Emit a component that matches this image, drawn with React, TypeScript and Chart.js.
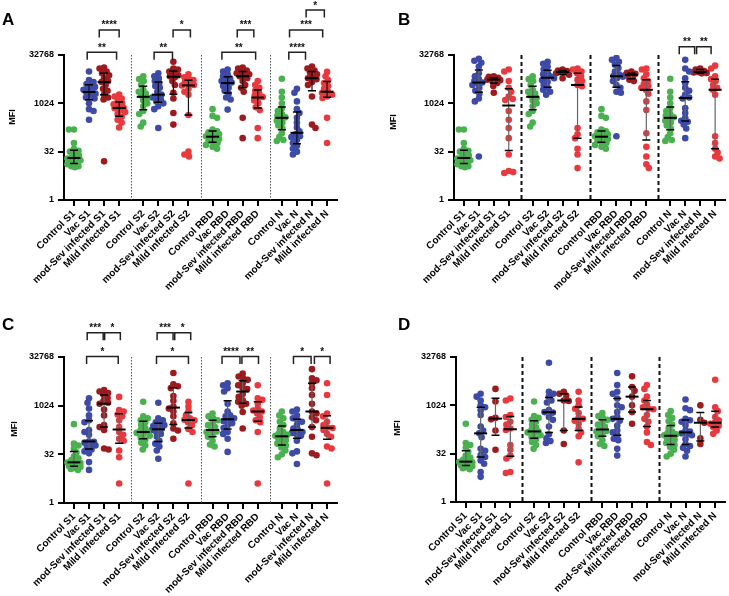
import React, { useEffect, useRef } from 'react';
import { Chart, registerables } from 'chart.js';
Chart.register(...registerables);
Chart.defaults.font.family = "'Liberation Sans', Arial, sans-serif";

// ---------- categories & ticks ----------
const categories = [
  'Control S1', 'Vac S1', 'mod-Sev infected S1', 'Mild infected S1',
  'Control S2', 'Vac S2', 'mod-Sev infected S2', 'Mild infected S2',
  'Control RBD', 'Vac RBD', 'mod-Sev infected RBD', 'Mild infected RBD',
  'Control N', 'Vac N', 'mod-Sev infected N', 'Mild infected N',
];
// y axis is log2(MFI); ticks 1, 32, 1024, 32768
const yTickExponents = [0, 5, 10, 15];
const groupColors = ['#4bb04f', '#3d4aa6', '#9b1b1f', '#e8393f'];

// ---------- data: log2(MFI) per subject ----------
// controls shared by A & B
const ctrlS1AB = [7.3, 7.3, 5.9, 5.3, 5.1, 5.0, 4.8, 4.6, 4.4, 4.3, 4.2, 4.1, 4.0, 3.8, 3.7, 3.5, 3.5, 3.4];
const ctrlS2AB = [12.8, 12.5, 12.3, 11.9, 11.4, 11.2, 11.0, 10.8, 10.55, 10.3, 10.0, 9.7, 9.2, 8.9, 8.0, 7.6];
const ctrlRBDAB = [9.4, 8.7, 8.5, 7.3, 7.1, 7.0, 6.9, 6.8, 6.6, 6.5, 6.4, 6.3, 6.1, 6.0, 5.9, 5.7, 5.5, 5.3];
const ctrlNAB = [12.55, 11.2, 10.6, 10.0, 9.5, 9.2, 8.9, 8.7, 8.55, 8.45, 8.2, 8.0, 7.7, 7.4, 6.9, 6.5, 6.2, 6.1];

// panel A
const aVacS1 = [13.3, 12.4, 12.2, 12.0, 11.9, 11.7, 11.5, 11.4, 11.25, 11.1, 11.0, 10.8, 10.6, 10.5, 10.0, 9.4, 9.2, 8.3];
const aSevS1 = [13.7, 13.6, 13.3, 13.1, 12.9, 12.6, 12.3, 12.2, 11.9, 11.5, 11.3, 10.9, 10.6, 10.4, 4.0];
const aMildS1 = [10.9, 10.7, 10.5, 10.2, 10.0, 9.9, 9.7, 9.55, 9.5, 9.3, 9.1, 8.9, 8.6, 8.3, 8.0, 7.5];
const aVacS2 = [13.1, 12.8, 12.6, 12.3, 12.1, 11.8, 11.6, 11.2, 10.9, 10.7, 10.6, 10.4, 10.2, 10.0, 9.7, 9.4, 7.45];
const aSevS2 = [14.3, 13.6, 13.5, 13.3, 13.1, 12.9, 12.8, 12.7, 12.3, 11.9, 11.1, 10.5, 9.0, 7.8];
const aMildS2 = [13.0, 12.7, 12.5, 12.4, 12.2, 12.0, 11.9, 11.85, 11.5, 11.2, 10.9, 8.8, 5.0, 4.7, 4.5];
const aVacRBD = [13.5, 13.3, 13.0, 12.8, 12.6, 12.5, 12.3, 12.15, 12.05, 11.8, 11.6, 11.3, 11.0, 10.6, 10.4, 9.35];
const aSevRBD = [13.7, 13.6, 13.4, 13.3, 13.1, 13.0, 12.9, 12.8, 12.6, 12.3, 11.9, 11.6, 11.2, 8.5, 6.4];
const aMildRBD = [12.3, 11.9, 11.6, 11.3, 11.0, 10.8, 10.65, 10.55, 10.3, 10.0, 9.6, 9.3, 7.45, 6.4];
const aVacN = [11.5, 11.1, 10.2, 9.4, 9.0, 8.5, 8.0, 7.5, 7.1, 6.8, 6.6, 6.5, 6.2, 5.9, 5.6, 5.3, 5.0, 4.7];
const aSevN = [13.8, 13.6, 13.4, 13.2, 13.0, 12.8, 12.6, 12.5, 12.2, 11.9, 10.7, 7.8, 7.45];
const aMildN = [13.25, 12.8, 12.4, 12.1, 11.8, 11.5, 11.2, 11.07, 10.9, 10.7, 10.55, 8.5, 5.9];

// panel B
const bVacS1 = [14.6, 14.4, 14.2, 13.8, 13.1, 12.8, 12.5, 12.3, 12.15, 12.05, 11.9, 11.6, 11.3, 11.0, 10.5, 10.2, 4.5];
const bSevS1 = [12.8, 12.75, 12.65, 12.55, 12.5, 12.45, 12.4, 12.3, 12.1, 11.8, 11.1];
const bMildS1 = [13.5, 13.3, 12.3, 11.6, 11.2, 10.7, 10.45, 10.35, 9.2, 8.3, 7.45, 6.4, 4.7, 3.0, 2.9, 2.8];
const bVacS2 = [14.3, 14.1, 13.8, 13.5, 13.2, 13.0, 12.8, 12.7, 12.6, 12.4, 12.2, 11.9, 11.6, 11.4, 11.2, 10.9];
const bSevS2 = [13.5, 13.4, 13.35, 13.25, 13.2, 13.1, 12.95, 12.6];
const bMildS2 = [13.6, 13.5, 13.3, 13.1, 12.8, 12.45, 12.3, 11.9, 11.76, 7.45, 6.8, 6.4, 5.3, 4.7, 3.3];
const bVacRBD = [14.7, 14.5, 14.3, 14.0, 13.65, 13.3, 13.0, 12.85, 12.75, 12.6, 12.3, 11.9, 11.6, 11.2, 11.1, 6.6];
const bSevRBD = [13.3, 13.15, 13.05, 13.0, 12.9, 12.8, 12.45, 12.3];
const bMildRBD = [13.6, 13.5, 13.0, 12.6, 12.3, 12.0, 11.8, 11.6, 11.4, 11.0, 10.2, 9.3, 6.9, 5.5, 4.5, 3.7, 3.3];
const bVacN = [14.5, 13.6, 13.3, 12.6, 12.1, 11.6, 11.3, 10.9, 10.6, 10.5, 9.5, 9.0, 8.5, 8.2, 8.1, 7.8, 7.4, 6.4];
const bSevN = [13.6, 13.5, 13.35, 13.25, 13.2, 13.15, 13.1];
const bMildN = [13.9, 13.6, 12.8, 12.5, 12.3, 11.9, 11.6, 11.4, 10.9, 6.6, 5.9, 5.3, 4.9, 4.5, 4.3];

// controls shared by C & D
const ctrlS1CD = [8.1, 6.1, 5.9, 5.6, 5.2, 4.8, 4.6, 4.4, 4.2, 4.15, 4.1, 4.0, 3.9, 3.8, 3.7, 3.6, 3.5, 3.4];
const ctrlS2CD = [10.4, 8.9, 8.7, 8.5, 8.3, 8.0, 7.7, 7.5, 7.3, 7.2, 7.1, 6.9, 6.7, 6.5, 6.2, 5.9, 5.5];
const ctrlRBDCD = [9.2, 8.9, 8.7, 8.5, 8.2, 8.0, 7.8, 7.5, 7.35, 7.3, 7.0, 6.8, 6.4, 6.0, 5.8];
const ctrlNCD = [9.4, 9.0, 8.7, 8.35, 8.0, 7.65, 7.3, 7.15, 7.0, 6.9, 6.8, 6.6, 6.45, 6.2, 6.1, 5.9, 5.7, 5.4, 5.0, 4.7];

// panel C
const cVacS1 = [10.75, 10.3, 9.7, 9.0, 8.5, 8.3, 7.5, 7.3, 7.0, 6.35, 6.3, 6.2, 6.0, 5.9, 5.7, 5.5, 5.3, 5.1, 4.2, 3.4];
const cSevS1 = [11.6, 11.45, 11.3, 11.1, 10.8, 10.5, 10.3, 10.2, 9.6, 9.0, 8.0, 7.8, 7.5, 5.6, 5.5];
const cMildS1 = [10.9, 9.55, 9.4, 9.1, 8.9, 8.5, 7.8, 7.3, 7.0, 6.6, 6.4, 5.4, 4.7, 2.0];
const cVacS2 = [10.3, 8.7, 8.5, 8.3, 8.15, 8.0, 7.9, 7.75, 7.65, 7.5, 7.3, 7.1, 6.8, 6.4, 6.1, 5.8, 5.4, 4.55];
const cSevS2 = [13.35, 12.2, 12.0, 11.8, 11.0, 10.5, 9.9, 9.7, 9.4, 8.9, 8.2, 7.65, 7.45, 6.6];
const cMildS2 = [10.4, 9.9, 9.4, 9.0, 8.7, 8.55, 8.5, 8.3, 8.0, 7.6, 7.3, 2.0];
const cVacRBD = [12.3, 12.1, 11.8, 11.45, 10.2, 9.4, 9.0, 8.9, 8.7, 8.5, 8.4, 8.2, 8.0, 7.7, 7.3, 7.1, 6.6, 5.25];
const cSevRBD = [13.3, 13.0, 12.8, 12.65, 12.3, 12.1, 11.8, 11.7, 11.2, 10.9, 10.55, 10.4, 10.2, 10.0, 9.35, 7.65];
const cMildRBD = [12.1, 10.75, 10.6, 10.2, 9.7, 9.5, 9.4, 9.2, 8.8, 8.5, 8.3, 7.3, 2.0];
const cVacN = [9.6, 9.4, 9.0, 8.7, 8.5, 8.35, 8.0, 7.65, 7.5, 7.3, 7.2, 7.0, 6.9, 6.4, 5.3, 5.1, 4.0];
const cSevN = [13.75, 12.8, 12.6, 12.3, 11.8, 11.1, 10.2, 9.4, 9.2, 8.8, 8.5, 7.8, 6.8, 5.1, 4.9];
const cMildN = [12.3, 11.1, 9.2, 8.9, 8.35, 8.0, 7.75, 7.7, 7.5, 7.1, 6.8, 5.8, 5.6, 2.0];

// panel D
const dVacS1 = [11.2, 10.9, 10.5, 10.0, 9.8, 9.5, 9.0, 7.8, 7.4, 7.1, 6.7, 5.5, 5.3, 4.85, 4.65, 4.3, 3.95, 3.1, 2.6];
const dSevS1 = [11.7, 10.4, 8.7, 8.55, 7.4, 5.4];
const dMildS1 = [10.7, 10.5, 9.0, 8.8, 8.3, 8.0, 7.6, 7.45, 5.9, 5.4, 4.8, 4.5, 3.1, 3.0];
const dVacS2 = [14.4, 11.4, 11.2, 10.9, 10.5, 10.3, 9.5, 9.3, 9.25, 8.8, 8.5, 7.8, 7.0, 6.6, 6.3, 6.1];
const dSevS2 = [11.4, 11.2, 11.0, 10.5, 10.45, 7.4, 6.0];
const dMildS2 = [11.4, 10.5, 10.0, 9.65, 9.2, 8.7, 8.6, 8.4, 8.1, 7.6, 7.2, 6.8, 4.1];
const dVacRBD = [13.35, 12.1, 11.4, 11.2, 10.7, 10.0, 9.8, 9.3, 8.8, 8.6, 8.4, 7.9, 7.4, 7.2, 6.9, 6.55, 6.4, 5.5, 4.8];
const dSevRBD = [13.0, 11.9, 11.5, 10.9, 10.0, 9.3, 8.1];
const dMildRBD = [12.1, 11.7, 10.9, 10.5, 10.1, 9.8, 9.65, 9.6, 9.0, 8.6, 8.3, 7.8, 7.2, 6.2, 5.9];
const dVacN = [10.6, 9.7, 9.5, 8.6, 8.45, 8.3, 7.95, 7.4, 7.3, 7.1, 7.0, 6.9, 6.5, 6.0, 5.8, 5.6, 5.3, 4.7];
const dSevN = [10.0, 8.5, 8.2, 6.6, 6.0];
const dMildN = [12.65, 9.8, 9.4, 8.8, 8.45, 8.2, 8.1, 7.9, 7.75, 7.4, 7.05];

const panelAData = [ctrlS1AB, aVacS1, aSevS1, aMildS1, ctrlS2AB, aVacS2, aSevS2, aMildS2, ctrlRBDAB, aVacRBD, aSevRBD, aMildRBD, ctrlNAB, aVacN, aSevN, aMildN];
const panelBData = [ctrlS1AB, bVacS1, bSevS1, bMildS1, ctrlS2AB, bVacS2, bSevS2, bMildS2, ctrlRBDAB, bVacRBD, bSevRBD, bMildRBD, ctrlNAB, bVacN, bSevN, bMildN];
const panelCData = [ctrlS1CD, cVacS1, cSevS1, cMildS1, ctrlS2CD, cVacS2, cSevS2, cMildS2, ctrlRBDCD, cVacRBD, cSevRBD, cMildRBD, ctrlNCD, cVacN, cSevN, cMildN];
const panelDData = [ctrlS1CD, dVacS1, dSevS1, dMildS1, ctrlS2CD, dVacS2, dSevS2, dMildS2, ctrlRBDCD, dVacRBD, dSevRBD, dMildRBD, ctrlNCD, dVacN, dSevN, dMildN];

// significance annotations (x in axis units, level in log2 units)
const bracketsA = [
  { from: 0.88, to: 2.83, level: 15.28, label: '**' },
  { from: 1.68, to: 3.0, level: 17.59, label: '****' },
  { from: 5.32, to: 6.54, level: 15.28, label: '**' },
  { from: 6.58, to: 7.73, level: 17.59, label: '*' },
  { from: 9.82, to: 12.06, level: 15.28, label: '**' },
  { from: 10.84, to: 11.94, level: 17.59, label: '***' },
  { from: 14.26, to: 15.37, level: 15.28, label: '****' },
  { from: 14.31, to: 16.51, level: 17.59, label: '***' },
  { from: 15.41, to: 16.62, level: 19.65, label: '*' },
];
const bracketsB = [
  { from: 14.4, to: 15.43, level: 15.86, label: '**' },
  { from: 15.56, to: 16.53, level: 15.86, label: '**' },
];
const bracketsC = [
  { from: 0.88, to: 1.94, level: 17.48, label: '***' },
  { from: 2.04, to: 3.08, level: 17.48, label: '*' },
  { from: 0.84, to: 2.94, level: 15.06, label: '*' },
  { from: 5.52, to: 6.58, level: 17.48, label: '***' },
  { from: 6.69, to: 7.75, level: 17.48, label: '*' },
  { from: 5.48, to: 7.6, level: 15.06, label: '*' },
  { from: 9.83, to: 11.02, level: 15.06, label: '****' },
  { from: 11.15, to: 12.25, level: 15.06, label: '**' },
  { from: 14.57, to: 15.74, level: 15.06, label: '*' },
  { from: 15.96, to: 17.0, level: 15.06, label: '*' },
];
const bracketsD: any[] = [];

// ---------- layout helpers ----------
const GROUP_STEP = 4.6;
const catPos = categories.map((_, i) => Math.floor(i / 4) * GROUP_STEP + (i % 4));
const dividerPos = [1, 2, 3].map((g) => g * GROUP_STEP - 0.8);
const X_MIN = -0.66;
const X_MAX = 3 * GROUP_STEP + 3 + 0.66;

const panels = [
  { key: 'A', left: 0, top: 0, w: 364, h: 300, padTop: 55, padRight: 27, yW: 64, xH: 100, data: panelAData, brackets: bracketsA, dashed: false, barColor: '#111', letter: [2, 25], mfi: [13, 117] },
  { key: 'B', left: 364, top: 0, w: 365, h: 300, padTop: 55, padRight: 1, yW: 90, xH: 100, data: panelBData, brackets: bracketsB, dashed: true, barColor: '#666', letter: [34, 25], mfi: [30, 122] },
  { key: 'C', left: 0, top: 300, w: 364, h: 296, padTop: 57, padRight: 27, yW: 64, xH: 93, data: panelCData, brackets: bracketsC, dashed: false, barColor: '#666', letter: [2, 30], mfi: [15, 129] },
  { key: 'D', left: 364, top: 300, w: 365, h: 296, padTop: 57, padRight: 1, yW: 92, xH: 94, data: panelDData, brackets: bracketsD, dashed: true, barColor: '#666', letter: [34, 30], mfi: [34, 128] },
];

// deterministic beeswarm layout (pixel space), capped spread
function swarm(vals: number[], center: number, pxX: number, pxY: number, diam: number, cap: number) {
  const order = vals.map((_, i) => i).sort((a, b) => vals[b] - vals[a]);
  const placed: { x: number; y: number }[] = [];
  const res: { x: number; y: number }[] = [];
  const cands: number[] = [0];
  for (let m = 0.5; m <= cap + 1e-9; m += 0.5) { cands.push(m, -m); }
  order.forEach((i, n) => {
    const yp = vals[i] * pxY;
    let off = 0;
    let bestScore = -1;
    let found = false;
    for (const c0 of cands) {
      const c = n % 2 === 0 ? c0 : -c0;
      let minD = Infinity;
      for (const p of placed) { const d = Math.hypot(p.x - c, p.y - yp); if (d < minD) minD = d; }
      if (minD >= diam) { off = c; found = true; break; }
      if (minD > bestScore) { bestScore = minD; off = c; }
    }
    if (!found && bestScore < 0) off = 0;
    placed.push({ x: off, y: yp });
    res.push({ x: center + off / pxX, y: vals[i] });
  });
  return res;
}

function quantile(asc: number[], p: number) {
  const n = asc.length;
  const pos = p * (n + 1);
  if (pos <= 1) return asc[0];
  if (pos >= n) return asc[n - 1];
  const lo = Math.floor(pos);
  return asc[lo - 1] + (pos - lo) * (asc[lo] - asc[lo - 1]);
}

function buildConfig(cfg: any) {
  const areaW = cfg.w - cfg.padRight - cfg.yW;
  const areaH = cfg.h - cfg.padTop - cfg.xH;
  const pxX = areaW / (X_MAX - X_MIN);
  const pxY = areaH / 15;
  const datasets = cfg.data.map((vals: number[], i: number) => ({
    label: categories[i],
    data: swarm(vals, catPos[i], pxX, pxY, 4.6, 6.5),
    backgroundColor: groupColors[i % 4],
    borderColor: groupColors[i % 4],
    borderWidth: 0,
    pointRadius: 3.3,
    showLine: false,
  }));

  const overlay = {
    id: 'overlay' + cfg.key,
    beforeDatasetsDraw(chart: any) {
      const { ctx, chartArea, scales } = chart;
      ctx.save();
      if (cfg.dashed) { ctx.strokeStyle = '#111'; ctx.lineWidth = 2; ctx.setLineDash([4, 3]); }
      else { ctx.strokeStyle = '#555'; ctx.lineWidth = 1; ctx.setLineDash([1.5, 1.5]); }
      dividerPos.forEach((d) => {
        const px = Math.round(scales.x.getPixelForValue(d)) + 0.5;
        ctx.beginPath(); ctx.moveTo(px, chartArea.top); ctx.lineTo(px, chartArea.bottom); ctx.stroke();
      });
      ctx.restore();
    },
    afterDatasetsDraw(chart: any) {
      const { ctx, scales } = chart;
      ctx.save();
      cfg.data.forEach((vals: number[], i: number) => {
        const asc = [...vals].sort((a, b) => a - b);
        const med = quantile(asc, 0.5);
        const q1 = quantile(asc, 0.25);
        const q3 = quantile(asc, 0.75);
        const cx = scales.x.getPixelForValue(catPos[i]);
        const y1 = scales.y.getPixelForValue(q1);
        const y3 = scales.y.getPixelForValue(q3);
        const ym = scales.y.getPixelForValue(med);
        ctx.strokeStyle = cfg.barColor; ctx.lineWidth = 1.2;
        ctx.beginPath(); ctx.moveTo(cx, y3); ctx.lineTo(cx, y1); ctx.stroke();
        ctx.strokeStyle = '#000'; ctx.lineWidth = 1.5;
        ctx.beginPath();
        ctx.moveTo(cx - 4, y1); ctx.lineTo(cx + 4, y1);
        ctx.moveTo(cx - 4, y3); ctx.lineTo(cx + 4, y3);
        ctx.stroke();
        ctx.lineWidth = 2;
        ctx.beginPath(); ctx.moveTo(cx - 6.5, ym); ctx.lineTo(cx + 6.5, ym); ctx.stroke();
      });
      ctx.restore();
    },
    afterDraw(chart: any) {
      const { ctx, scales } = chart;
      ctx.save();
      ctx.strokeStyle = '#222'; ctx.lineWidth = 1.5; ctx.fillStyle = '#111';
      ctx.font = "bold 10px 'Liberation Sans', Arial, sans-serif";
      ctx.textAlign = 'center'; ctx.textBaseline = 'alphabetic';
      cfg.brackets.forEach((b: any) => {
        const x1 = scales.x.getPixelForValue(b.from);
        const x2 = scales.x.getPixelForValue(b.to);
        const y = scales.y.getPixelForValue(b.level);
        ctx.beginPath();
        ctx.moveTo(x1, y + 7.5); ctx.lineTo(x1, y); ctx.lineTo(x2, y); ctx.lineTo(x2, y + 7.5);
        ctx.stroke();
        ctx.fillText(b.label, (x1 + x2) / 2, y - 1.5);
      });
      // panel letter
      ctx.fillStyle = '#000';
      ctx.textAlign = 'left';
      ctx.font = "bold 17px 'Liberation Sans', Arial, sans-serif";
      ctx.fillText(cfg.key, cfg.letter[0], cfg.letter[1]);
      // axis title
      ctx.font = "bold 9px 'Liberation Sans', Arial, sans-serif";
      ctx.translate(cfg.mfi[0], cfg.mfi[1]);
      ctx.rotate(-Math.PI / 2);
      ctx.textAlign = 'center'; ctx.textBaseline = 'middle';
      ctx.fillText('MFI', 0, 0);
      ctx.restore();
    },
  };

  const gridOpts = { drawOnChartArea: false, drawTicks: true, tickLength: 6, color: '#000', lineWidth: 2 };
  const borderOpts = { display: true, color: '#000', width: 2 };

  return {
    type: 'scatter',
    data: { datasets },
    options: {
      responsive: false,
      animation: false,
      events: [],
      layout: { padding: { top: cfg.padTop, right: cfg.padRight, left: 0, bottom: 0 } },
      plugins: { legend: { display: false }, tooltip: { enabled: false } },
      scales: {
        x: {
          type: 'linear', min: X_MIN, max: X_MAX,
          afterBuildTicks: (s: any) => { s.ticks = catPos.map((v) => ({ value: v })); },
          afterFit: (s: any) => { s.height = cfg.xH; s.paddingLeft = 0; s.paddingRight = 0; },
          ticks: {
            autoSkip: false, minRotation: 45, maxRotation: 45, color: '#000', padding: 2,
            font: { size: 10, weight: 'bold' },
            callback: (_v: any, i: number) => categories[i],
          },
          grid: gridOpts, border: borderOpts,
        },
        y: {
          type: 'linear', min: 0, max: 15,
          afterBuildTicks: (s: any) => { s.ticks = yTickExponents.map((v) => ({ value: v })); },
          afterFit: (s: any) => { s.width = cfg.yW; s.paddingTop = 0; s.paddingBottom = 0; },
          ticks: { color: '#000', padding: 4, font: { size: 9, weight: 'bold' }, callback: (v: any) => String(2 ** v) },
          grid: gridOpts, border: borderOpts,
        },
      },
    },
    plugins: [overlay],
  };
}

function Panel({ cfg }: { cfg: any }) {
  const ref = useRef<HTMLCanvasElement | null>(null);
  useEffect(() => {
    const chart = new Chart(ref.current as any, buildConfig(cfg) as any);
    return () => chart.destroy();
  }, []);
  return (
    <canvas
      ref={ref}
      width={cfg.w}
      height={cfg.h}
      style={{ position: 'absolute', left: cfg.left, top: cfg.top, width: cfg.w, height: cfg.h }}
    />
  );
}

export default function App() {
  return (
    <div style={{ position: 'absolute', left: 0, top: 0, width: 729, height: 596, background: '#fff', overflow: 'hidden' }}>
      {panels.map((p) => <Panel key={p.key} cfg={p} />)}
    </div>
  );
}
